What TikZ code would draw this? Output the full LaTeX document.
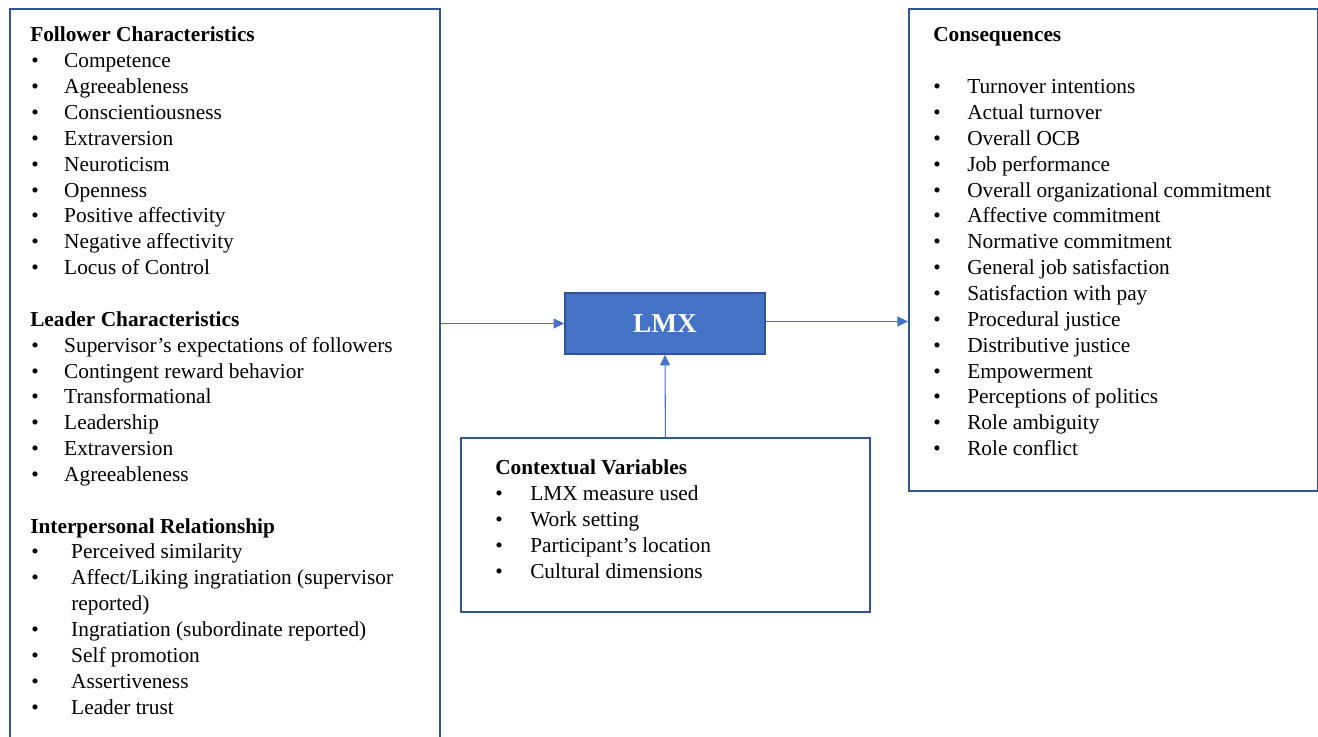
\documentclass[tikz,border=0pt]{standalone}
\usepackage{fontspec}
\setmainfont{Liberation Serif}
\usetikzlibrary{arrows.meta}

\definecolor{boxblue}{HTML}{2F5597}
\definecolor{lmxblue}{HTML}{4472C4}

\begin{document}
\begin{tikzpicture}[x=0.75pt, y=-0.75pt,
    panel/.style={draw=boxblue, line width=1.4pt, anchor=north west, inner sep=0pt},
    lmxbox/.style={draw=boxblue, fill=lmxblue, line width=1.2pt, text=white,
      minimum width=150pt, minimum height=45.75pt, inner sep=0pt,
      font=\fontsize{20.5}{24}\selectfont\bfseries},
    head/.style={anchor=base west, inner sep=0pt, font=\fontsize{16}{19}\selectfont\bfseries},
    item/.style={anchor=base west, inner sep=0pt, font=\fontsize{16}{19}\selectfont},
    link/.style={draw=lmxblue, line width=0.8pt, -{Triangle[length=8pt, width=7.5pt]}}]

  \useasboundingbox (0,0) rectangle (1318,737);
  \clip (0,0) rectangle (1318,737);

  % Line spacing
  \def\ls{25.85}
  \def\bul#1#2{\makebox[#1][l]{\textbullet}#2}

  % Boxes
  \node[panel, minimum width=322.5pt, minimum height=600pt] (follower) at (9,8) {};
  \node[panel, minimum width=306.75pt, minimum height=361.5pt] (conseq) at (908,8) {};
  \node[panel, minimum width=306.75pt, minimum height=130.5pt] (context) at (460,437) {};
  \node[lmxbox] (lmx) at (665,323.5) {LMX};

  % Follower characteristics
  \node[head] (fhead) at (30,42) {Follower Characteristics};
  \foreach \t [count=\i] in {Competence, Agreeableness, Conscientiousness, Extraversion,
      Neuroticism, Openness, Positive affectivity, Negative affectivity, Locus of Control}
    \node[item] (f\i) at (31, 42+\i*\ls) {\bul{24.75pt}{\t}};

  % Leader characteristics
  \node[head] (lhead) at (30, 42+11*\ls) {Leader Characteristics};
  \foreach \t [count=\i] in {Supervisor's expectations of followers, Contingent reward behavior,
      Transformational, Leadership, Extraversion, Agreeableness}
    \node[item] (l\i) at (31, 42+11*\ls+\i*\ls) {\bul{24.75pt}{\t}};

  % Interpersonal relationship
  \node[head] (ihead) at (30, 42+19*\ls) {Interpersonal Relationship};
  \node[item] (i1) at (31, 42+20*\ls) {\bul{30pt}{Perceived similarity}};
  \node[item] (i2) at (31, 42+21*\ls) {\bul{30pt}{Affect/Liking ingratiation (supervisor}};
  \node[item] (i2b) at (71, 42+22*\ls) {reported)};
  \node[item] (i3) at (31, 42+23*\ls) {\bul{30pt}{Ingratiation (subordinate reported)}};
  \node[item] (i4) at (31, 42+24*\ls) {\bul{30pt}{Self promotion}};
  \node[item] (i5) at (31, 42+25*\ls) {\bul{30pt}{Assertiveness}};
  \node[item] (i6) at (31, 42+26*\ls) {\bul{30pt}{Leader trust}};

  % Consequences
  \node[head] (chead) at (933,42) {Consequences};
  \foreach \t [count=\i] in {Turnover intentions, Actual turnover, Overall OCB, Job performance,
      Overall organizational commitment, Affective commitment, Normative commitment,
      General job satisfaction, Satisfaction with pay, Procedural justice, Distributive justice,
      Empowerment, Perceptions of politics, Role ambiguity, Role conflict}
    \node[item] (c\i) at (933, 42+\ls+\i*\ls) {\bul{25.5pt}{\t}};

  % Contextual variables
  \node[head] (xhead) at (495,475) {Contextual Variables};
  \foreach \t [count=\i] in {LMX measure used, Work setting, Participant’s location,
      Cultural dimensions}
    \node[item] (x\i) at (495, 475+\i*\ls) {\bul{26.25pt}{\t}};

  % Arrows
  \draw[link] (lmx.west -| follower.east) -- (lmx.west);
  \draw[link] ([yshift=1.5pt]lmx.east) -- ([yshift=1.5pt]lmx.east -| conseq.west);
  \draw[link] (context.north) -- (lmx.south);

\end{tikzpicture}
\end{document}
